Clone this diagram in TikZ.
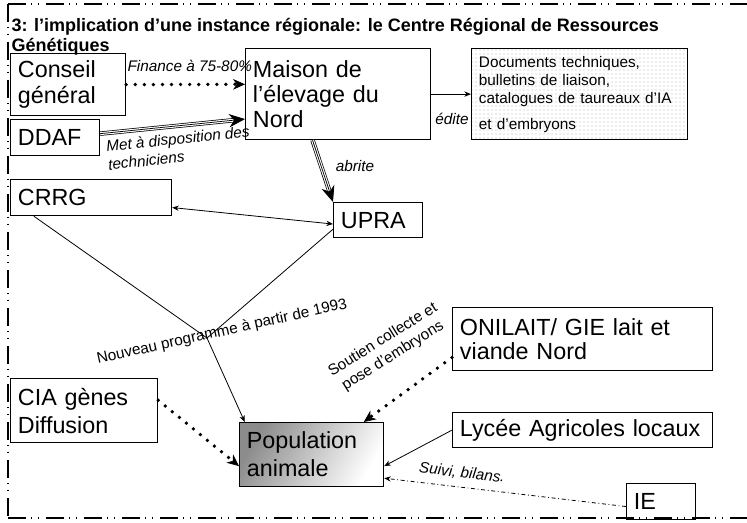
\documentclass[tikz,border=0pt]{standalone}
\usepackage{fontspec}
\setmainfont{Liberation Sans}
\usetikzlibrary{arrows.meta,patterns}

\newcommand{\titlefont}{\fontsize{13.5}{15}\selectfont\bfseries}
\newcommand{\boxfont}{\fontsize{17.5}{19}\selectfont}
\newcommand{\labfont}{\fontsize{11.5}{14}\selectfont}

\tikzset{every picture/.style={line width=0.75pt}}
\tikzset{
  box/.style={draw, line width=0.9pt, anchor=north west, align=left, inner xsep=5.5pt, inner ysep=0pt, font=\boxfont},
  lab/.style={inner sep=0.75pt, font=\labfont},
  ilab/.style={inner sep=0.75pt, font=\labfont\itshape},
  frame/.style={line width=1.5pt, dash pattern=on 13.5pt off 4pt on 0.75pt off 4pt on 0.75pt off 5.5pt},
  thinline/.style={line width=0.6pt},
  thinarrow/.style={line width=0.6pt, -{Stealth[length=5pt,width=4pt]}},
  thinboth/.style={line width=0.6pt, {Stealth[length=5pt,width=4pt]}-{Stealth[length=5pt,width=4pt]}},
  dotarrow/.style={line width=2.8pt, line cap=round, dash pattern=on 0pt off 6.8pt, -{Stealth[length=9pt,width=8pt,line width=0.5pt]}},
  triple/.style={line width=0.55pt, double distance=2.2pt, shorten >=8.5pt},
  midarrow/.style={line width=0.55pt, -{Stealth[length=12pt,width=10pt]}}
}

\begin{document}
\begin{tikzpicture}[x=0.75pt,y=0.75pt,yscale=-1,xscale=1]
\useasboundingbox (0,0) rectangle (747,522);

%Frame
\draw [frame] (8,4) -- (747,4);
\draw [frame] (8,4) -- (8,518);
\draw [frame] (8,518) -- (747,518);

% Title
\draw (11,17.5) node [anchor=north west, inner sep=0pt, align=left, font=\titlefont] (title) {3: l’implication d’une instance régionale: le Centre Régional de Ressources\\Génétiques};

%Shape: Rectangle
\draw (10,53) node [box, text width=75.25pt, minimum height=46.5pt] (cg) {Conseil\\général};
%Shape: Rectangle
\draw (10,119) node [box, text width=55.75pt, minimum height=27pt] (ddaf) {DDAF};
%Shape: Rectangle
\draw (245,48) node [box, text width=127.75pt, minimum height=68.25pt] (maison) {Maison de\\l’élevage du\\Nord};
%Shape: Rectangle
\draw (471,48) node [box, text width=151pt, minimum height=68.25pt, font=\fontsize{11.5}{13.5}\selectfont, pattern=dots, pattern color=black!30] (docs) {Documents techniques,\\bulletins de liaison,\\catalogues de taureaux d’IA\\[6pt]et d’embryons};
%Shape: Rectangle
\draw (10,179) node [box, text width=109.75pt, minimum height=27pt] (crrg) {CRRG};
%Shape: Rectangle
\draw (333,202) node [box, text width=55.75pt, minimum height=26.25pt] (upra) {UPRA};
%Shape: Rectangle
\draw (452,307) node [box, text width=184pt, minimum height=47.25pt, font=\fontsize{17.5}{17.5}\selectfont] (onilait) {ONILAIT/ GIE lait et\\viande Nord};
%Shape: Rectangle
\draw (452,412) node [box, text width=184pt, minimum height=26.25pt] (lycee) {Lycée Agricoles locaux};
%Shape: Rectangle
\draw (626,483) node [box, text width=40.75pt, minimum height=27pt] (ie) {IE};
%Shape: Rectangle
\draw (10,378) node [box, text width=99.25pt, minimum height=48pt, font=\fontsize{17.5}{21}\selectfont] (cia) {CIA gènes\\Diffusion};
%Shape: Rectangle
\draw (239,422) node [box, text width=97pt, minimum height=48pt, font=\fontsize{17.5}{21}\selectfont, top color=black!45, bottom color=white, shading angle=60] (pop) {Population\\animale};

\coordinate (jn) at (207,338);

%Straight Lines
\draw [dotarrow] (cg.east) -- (maison.174);
\draw [triple] (ddaf.5) -- (maison.195);
\draw [midarrow] (ddaf.5) -- (maison.195);
\draw [triple] (maison.241) -- (upra.north west);
\draw [midarrow] (maison.241) -- (upra.north west);
\draw [thinarrow] (maison.east) -- (docs.west);
\draw [thinboth] (crrg.-7) -- (upra.185);
\draw [thinline] (crrg.198) -- (jn);
\draw [thinline] ([yshift=-6.75pt]upra.south west) -- (jn);
\draw [thinarrow] (jn) -- (pop.154);
\draw [dotarrow] (onilait.188) -- (pop.32);
\draw [dotarrow] (cia.8) -- (pop.189);
\draw [thinarrow] (lycee.west) -- (pop.-9);
\draw [thinarrow, dash dot] (ie.188) -- (pop.-18);

% Text Node
\draw (126,71) node [ilab, anchor=base west] (fin) {Finance à 75-80\%};
% Text Node
\draw (104,139) node [ilab, anchor=north west, rotate=6, align=left] (met) {Met à disposition des\\techniciens};
% Text Node
\draw (355,166) node [ilab] (abr) {abrite};
% Text Node
\draw (452,119) node [ilab] (edi) {édite};
% Text Node
\draw (222,332) node [lab, rotate=12.5] (nouv) {Nouveau programme à partir de 1993};
% Text Node
\draw (388,348) node [lab, rotate=32, align=center] (sout) {Soutien collecte et\\pose d’embryons};
% Text Node
\draw (462,473) node [ilab, rotate=-6.5] (suiv) {Suivi, bilans.};

\end{tikzpicture}
\end{document}
